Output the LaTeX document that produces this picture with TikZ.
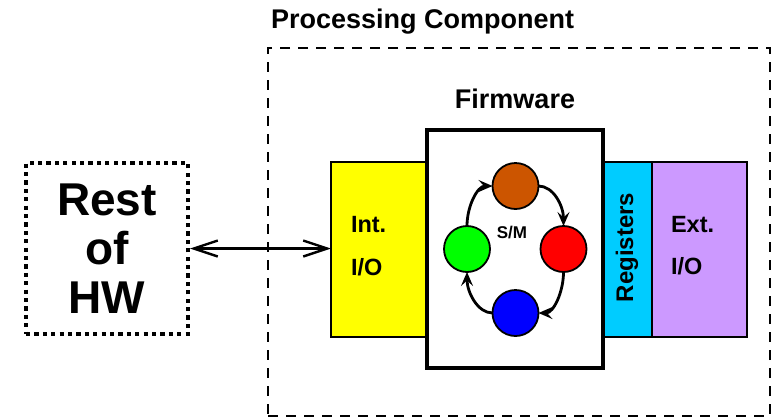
\documentclass[tikz,border=0pt]{standalone}
\usepackage{fontspec}
\setmainfont{Liberation Sans}
\usetikzlibrary{arrows.meta}
\definecolor{ioyellow}{HTML}{FFFF00}
\definecolor{regcyan}{HTML}{00CCFF}
\definecolor{extpurple}{HTML}{CC99FF}
\definecolor{stbrown}{HTML}{CC5500}
\definecolor{stred}{HTML}{FF0000}
\definecolor{stgreen}{HTML}{00FF00}
\definecolor{stblue}{HTML}{0000FF}
\begin{document}
\begin{tikzpicture}[x=1pt,y=-1pt,
  every node/.style={inner sep=0pt,outer sep=0pt},
  block/.style={draw=black,line width=1.8pt,rectangle},
  statenode/.style={draw=black,line width=1.8pt,circle,minimum size=46pt},
  sttip/.tip={Stealth[length=14pt,width=12pt,inset=5.5pt]},
  linktip/.tip={Straight Barb[length=24pt,width=16pt]},
  transition/.style={line width=2.8pt,-sttip},
  boldlabel/.style={font=\bfseries\fontsize{#1}{#1}\selectfont},
]
\useasboundingbox (0,0) rectangle (773,418);

% processing component frame and its title
\node[draw=black,line width=2.8pt,dash pattern=on 10pt off 8pt,
      minimum width=502pt,minimum height=368pt] (pc) at (519,232) {};
\node[boldlabel=27,anchor=base west] (pctitle) at (271,28) {Processing Component};

% rest of hardware
\node[draw=black,line width=4.5pt,dash pattern=on 4.2pt off 4.2pt,
      minimum width=162pt,minimum height=171pt,align=center,
      font=\bfseries\fontsize{46}{49}\selectfont] (rest) at (107,248.5) {Rest\\of\\HW};

% interface blocks
\node[block,fill=ioyellow,minimum width=97pt,minimum height=175pt] (intio) at (379.5,249.5) {};
\node[block,fill=regcyan,minimum width=49pt,minimum height=175pt] (reg) at (627.5,249.5) {};
\node[block,fill=extpurple,minimum width=95pt,minimum height=175pt] (extio) at (699.5,249.5) {};

% firmware
\node[draw=black,fill=white,line width=3.5pt,minimum width=176pt,minimum height=238pt] (fw) at (515,249) {};
\node[boldlabel=27,anchor=base] (fwtitle) at (515,108) {Firmware};

% labels of the interface blocks
\node[boldlabel=23.5,anchor=base west] (intlbl) at (351,232.5) {Int.};
\node[boldlabel=23.5,anchor=base west] (intio2) at (351,275) {I/O};
\node[boldlabel=23.5,anchor=base west] (extlbl) at (671,232) {Ext.};
\node[boldlabel=23.5,anchor=base west] (extio2) at (671,274) {I/O};
\node[boldlabel=24,anchor=base,rotate=90] (reglbl) at (633,247.5) {Registers};

% state machine
\node[statenode,fill=stbrown] (sb) at (515.5,186) {};
\node[statenode,fill=stred] (sr) at (563.5,249) {};
\node[statenode,fill=stblue] (sbl) at (515.5,313) {};
\node[statenode,fill=stgreen] (sg) at (467,249) {};
\node[boldlabel=17,anchor=base] (smlbl) at (512,238) {S/M};

\draw[transition] (sb.east) .. controls +(15,0) and +(0,-20) .. (sr.north);
\draw[transition] (sr.south) .. controls +(0,20) and +(15,0) .. (sbl.east);
\draw[transition] (sbl.west) .. controls +(-15,0) and +(0,20) .. (sg.south);
\draw[transition] (sg.north) .. controls +(0,-20) and +(-15,0) .. (sb.west);

% link between the hardware and the internal I/O
\draw[line width=2.4pt,linktip-linktip]
  ([xshift=2pt]rest.east) -- (rest.east -| intio.west);
\end{tikzpicture}
\end{document}
